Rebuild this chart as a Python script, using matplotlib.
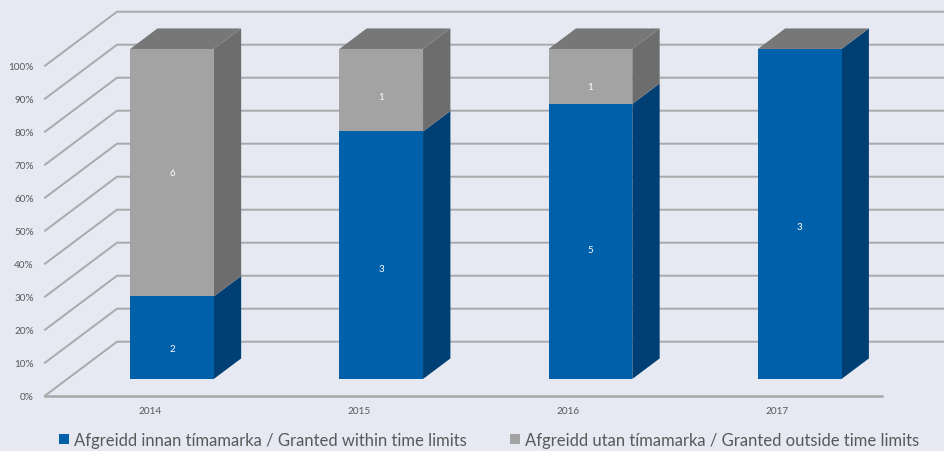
import matplotlib
matplotlib.use('Agg')
import matplotlib.pyplot as plt
from matplotlib.patches import Patch, Polygon
import numpy as np

years = ['2014', '2015', '2016', '2017']
within_limits = [2, 3, 5, 3]
outside_limits = [6, 1, 1, 0]
within_label = 'Afgreidd innan tímamarka / Granted within time limits'
outside_label = 'Afgreidd utan tímamarka / Granted outside time limits'
percent_ticks = [0, 10, 20, 30, 40, 50, 60, 70, 80, 90, 100]

# small vertical nudges of the value labels, in percent points
within_nudge = [-3.3, -3.9, -2.4, -3.9]
outside_nudge = [0, -1.8, -3.0, 0]

BG = '#e6e9f2'
GRID = '#a8a9ab'
TEXT = '#595959'
BLUE = ('#0060aa', '#003f74')
GRAY = ('#a3a3a3', '#6d6d6d')
TOP = '#777777'

plt.rcParams['font.family'] = ['Lato', 'DejaVu Sans']

W, H = 944, 452
fig = plt.figure(figsize=(W / 100, H / 100), dpi=100, facecolor=BG)
ax = fig.add_axes([45 / W, (H - 396.7) / H, 837 / W, 330 / H])
ax.set_facecolor('none')
ax.set_xlim(-0.5, 3.5)
ax.set_ylim(0, 100)

# oblique depth of the chart box, in data units
DX = 72 / 209.25
DY = 54 / 3.3
BAR_FRONT = 0.31
BAR_BACK = 0.69
BAR_W = 0.4


def proj(x, y, depth):
    return (x + depth * DX, y + depth * DY)


# left wall diagonals and back wall lines
for p in percent_ticks:
    x0, y0 = proj(-0.5, p, 0)
    x1, y1 = proj(-0.5, p, 1)
    x2, y2 = proj(3.5, p, 1)
    ax.plot([x0, x1, x2], [y0, y1, y2], color=GRID, lw=1.4, clip_on=False,
            zorder=1, solid_joinstyle='miter')


def draw_segment(i, low, high, colors, cap):
    xl, xr = i - BAR_W / 2, i + BAR_W / 2
    front = [proj(xl, low, BAR_FRONT), proj(xr, low, BAR_FRONT),
             proj(xr, high, BAR_FRONT), proj(xl, high, BAR_FRONT)]
    side = [proj(xr, low, BAR_FRONT), proj(xr, low, BAR_BACK),
            proj(xr, high, BAR_BACK), proj(xr, high, BAR_FRONT)]
    ax.add_patch(Polygon(side, closed=True, fc=colors[1], ec='none', clip_on=False, zorder=3))
    ax.add_patch(Polygon(front, closed=True, fc=colors[0], ec='none', clip_on=False, zorder=3))
    if cap:
        top = [proj(xl, high, BAR_FRONT), proj(xr, high, BAR_FRONT),
               proj(xr, high, BAR_BACK), proj(xl, high, BAR_BACK)]
        ax.add_patch(Polygon(top, closed=True, fc=TOP, ec='none', clip_on=False, zorder=3))


def value_label(i, low, high, value, nudge):
    x, y = proj(i, (low + high) / 2 + nudge, BAR_FRONT)
    ax.text(x, y, str(value), color='white', fontsize=7, ha='center', va='center', zorder=5)


totals = np.array(within_limits) + np.array(outside_limits)
for i in range(len(years)):
    split = 100 * within_limits[i] / totals[i]
    draw_segment(i, 0, split, BLUE, outside_limits[i] == 0)
    value_label(i, 0, split, within_limits[i], within_nudge[i])
    if outside_limits[i] > 0:
        draw_segment(i, split, 100, GRAY, True)
        value_label(i, split, 100, outside_limits[i], outside_nudge[i])

ax.set_xticks(range(len(years)))
ax.set_xticklabels(years)
ax.set_yticks(percent_ticks)
ax.set_yticklabels([str(p) + '%' for p in percent_ticks])
ax.tick_params(axis='x', length=0, pad=7.5, labelsize=7.2, labelcolor=TEXT)
ax.tick_params(axis='y', length=0, pad=8, labelsize=7.2, labelcolor=TEXT)
for side in ['top', 'left', 'right']:
    ax.spines[side].set_visible(False)
ax.spines['bottom'].set_color(GRID)
ax.spines['bottom'].set_linewidth(1.8)
ax.spines['bottom'].set_zorder(2)

handles = [Patch(fc=BLUE[0], label=within_label), Patch(fc=GRAY[0], label=outside_label)]
fig.legend(handles=handles, ncol=2, frameon=False, loc='center left',
           bbox_to_anchor=(59 / W, (H - 441) / H), fontsize=11.95, labelcolor=TEXT,
           handlelength=0.6, handleheight=0.6, handletextpad=0.3, columnspacing=2.6,
           borderpad=0, borderaxespad=0)

fig.savefig('out.png', dpi=100, facecolor=BG)
